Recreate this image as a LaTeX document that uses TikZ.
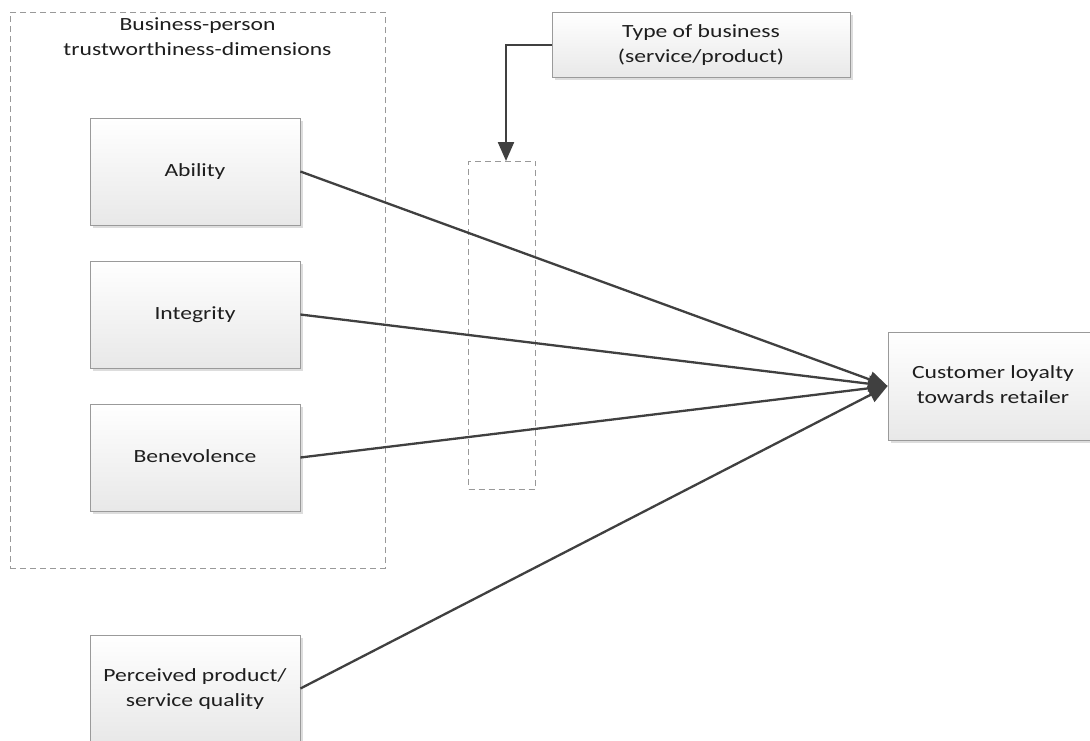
\documentclass[tikz,border=0pt]{standalone}
\usepackage{fontspec}
\usepackage{graphicx}
\setmainfont{Carlito}
\usetikzlibrary{arrows.meta,shadows}
\definecolor{linec}{HTML}{404040}
\definecolor{boxborder}{HTML}{9A9A9A}
\definecolor{txt}{HTML}{1E1E1E}
\newcommand{\wtxt}[1]{\scalebox{1.27}[1]{\fontsize{18.6}{25}\selectfont\begin{tabular}{@{}c@{}}#1\end{tabular}}}
\tikzset{
  box/.style={rectangle,draw=boxborder,line width=0.8pt,top color=white,bottom color=black!9,
    drop shadow={shadow xshift=2.5pt,shadow yshift=-2.5pt,fill=black!22,opacity=0.6},
    align=center,text=txt,inner sep=0pt},
  dashbox/.style={rectangle,draw=black!40,line width=0.8pt,dash pattern=on 6pt off 4pt,inner sep=0pt},
  conn/.style={draw=linec,line width=2.3pt,-{Triangle[length=19pt,width=16pt]}},
}
\begin{document}
\begin{tikzpicture}[x=1pt,y=-1pt]
\useasboundingbox (0,0) rectangle (1090,740);
\clip (0,0) rectangle (1090,740);
\fill[white] (0,0) rectangle (1090,740);
% group box
\node[dashbox,minimum width=375pt,minimum height=556pt] (grp) at (197.5,290) {};
\node[text=txt,inner sep=0pt] (grptitle) at (197.5,38) {\wtxt{Business-person\\trustworthiness-dimensions}};
% moderator box
\node[dashbox,minimum width=67pt,minimum height=328pt] (mod) at (502,325) {};
% boxes
\node[box,minimum width=210pt,minimum height=107pt] (abil) at (195,171.5) {\wtxt{Ability}};
\node[box,minimum width=210pt,minimum height=107pt] (integ) at (195,314.5) {\wtxt{Integrity}};
\node[box,minimum width=210pt,minimum height=107pt] (bene) at (195,457.5) {\wtxt{Benevolence}};
\node[box,minimum width=210pt,minimum height=107pt] (perc) at (195,688.5) {\wtxt{Perceived product/\\service quality}};
\node[box,minimum width=298pt,minimum height=65pt] (type) at (701,45) {\wtxt{Type of business\\(service/product)}};
\node[box,minimum width=210pt,minimum height=108pt] (cust) at (993,386) {\wtxt{Customer loyalty\\towards retailer}};
\coordinate (modtop) at (506,161);
% connectors
\draw[conn] (abil.east) -- (cust.west);
\draw[conn] (integ.east) -- (cust.west);
\draw[conn] (bene.east) -- (cust.west);
\draw[conn] (perc.east) -- (cust.west);
\draw[conn] (type.west) -| (modtop);
\end{tikzpicture}
\end{document}
